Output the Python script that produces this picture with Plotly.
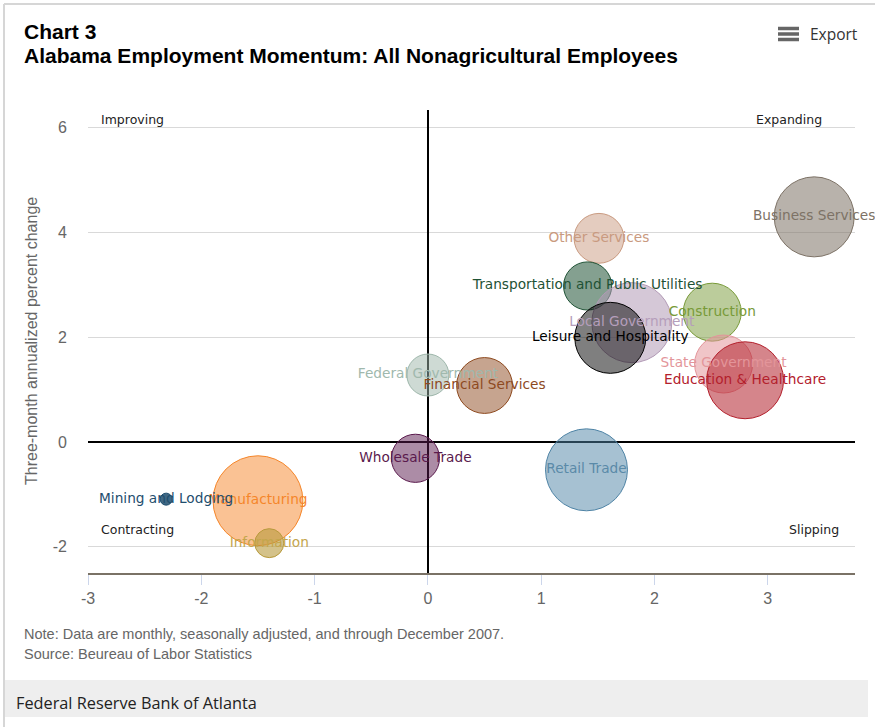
import plotly.graph_objects as go

# ---- data ----
sectors = ["Business Services", "Other Services", "Transportation and Public Utilities",
           "Local Government", "Leisure and Hospitality", "Construction", "State Government",
           "Education & Healthcare", "Federal Government", "Financial Services",
           "Wholesale Trade", "Retail Trade", "Manufacturing", "Information",
           "Mining and Lodging"]
x_vals = [3.41, 1.51, 1.41, 1.80, 1.61, 2.51, 2.61, 2.80, 0.00, 0.50, -0.11, 1.40, -1.50, -1.40, -2.31]
y_vals = [4.30, 3.89, 2.98, 2.28, 1.99, 2.48, 1.49, 1.18, 1.28, 1.08, -0.31, -0.53, -1.12, -1.93, -1.09]
z_vals = [80, 31, 29, 80, 63, 42, 42, 74, 22, 39, 29, 84, 101, 10.5, 1.8]
line_colors = ["#7d7266", "#c99a80", "#1f5235", "#b29ab6", "#000000", "#789a38", "#e3959a",
               "#b3202c", "#9db6aa", "#8e4a1f", "#5a1a4d", "#4e83a5", "#f5862a", "#b89a3c",
               "#1f4e6e"]
fill_colors = ["rgba(125,114,102,0.55)", "rgba(201,154,128,0.5)", "rgba(31,82,53,0.55)",
               "rgba(178,154,182,0.55)", "rgba(0,0,0,0.5)", "rgba(120,154,56,0.5)",
               "rgba(227,149,154,0.55)", "rgba(179,32,44,0.55)", "rgba(157,182,170,0.5)",
               "rgba(142,74,31,0.5)", "rgba(90,26,77,0.5)", "rgba(78,131,165,0.5)",
               "rgba(245,134,42,0.5)", "rgba(184,154,60,0.6)", "rgba(31,78,110,0.85)"]
label_colors = ["#7d7266", "#c99a80", "#1f5235", "#b59ebb", "#000000", "#789a38", "#e3959a",
                "#b3202c", "#a0b8ad", "#8e4a1f", "#5a1a4d", "#5a8aa8", "#f5862a", "#c4a64c",
                "#1f4e6e"]
x_ticks = [-3, -2, -1, 0, 1, 2, 3]
x_ticktext = ["-3", "-2", "-1", "0", "1", "2", "3"]
y_ticks = [-2, 0, 2, 4, 6]
y_ticktext = ["-2", "0", "2", "4", "6"]

W, H = 875, 727
L, R, T, B = 88, 855, 110, 573


def px_x(p):
    return (p - L) / (R - L)


def px_y(p):
    return (B - p) / (B - T)


fig = go.Figure()
fig.add_trace(go.Scatter(
    x=x_vals, y=y_vals, mode="markers",
    marker=dict(size=z_vals, sizemode="area", sizeref=0.025, sizemin=4, opacity=1,
                color=fill_colors, line=dict(color=line_colors, width=1)),
    hoverinfo="text", text=sectors, showlegend=False, cliponaxis=False))
fig.add_trace(go.Scatter(
    x=x_vals, y=y_vals, mode="text", text=sectors, textposition="middle center",
    textfont=dict(family="DejaVu Sans", size=13.7, color=label_colors),
    hoverinfo="skip", showlegend=False, cliponaxis=False))

ann = []
font_q = dict(family="DejaVu Sans", size=12.5, color="#222")
ann.append(dict(text="Improving", x=px_x(99), y=px_y(119), xanchor="left", yanchor="middle", font=font_q))
ann.append(dict(text="Expanding", x=px_x(824), y=px_y(119), xanchor="right", yanchor="middle", font=font_q))
ann.append(dict(text="Contracting", x=px_x(99), y=px_y(529), xanchor="left", yanchor="middle", font=font_q))
ann.append(dict(text="Slipping", x=px_x(841), y=px_y(529), xanchor="right", yanchor="middle", font=font_q))
title_font = dict(family="Liberation Sans", size=21, color="#000")
ann.append(dict(text="<b>Chart 3</b>", x=px_x(22), y=px_y(32), xanchor="left", yanchor="middle", font=title_font))
ann.append(dict(text="<b>Alabama Employment Momentum: All Nonagricultural Employees</b>",
                x=px_x(22), y=px_y(56), xanchor="left", yanchor="middle", font=title_font))
ann.append(dict(text="Export", x=px_x(808), y=px_y(34), xanchor="left", yanchor="middle",
                font=dict(family="Open Sans", size=15.5, color="#333")))
ann.append(dict(text="Three-month annualized percent change", textangle=-90, x=px_x(31), y=px_y(341),
                xanchor="center", yanchor="middle", font=dict(family="Liberation Sans", size=16, color="#666")))
note_font = dict(family="Liberation Sans", size=14.5, color="#666")
ann.append(dict(text="Note: Data are monthly, seasonally adjusted, and through December 2007.",
                x=px_x(22), y=px_y(634), xanchor="left", yanchor="middle", font=note_font))
ann.append(dict(text="Source: Beureau of Labor Statistics",
                x=px_x(22), y=px_y(654), xanchor="left", yanchor="middle", font=note_font))
ann.append(dict(text="Federal Reserve Bank of Atlanta", x=px_x(14), y=px_y(703), xanchor="left",
                yanchor="middle", font=dict(family="Open Sans", size=16.3, color="#222")))
for a in ann:
    a.update(xref="paper", yref="paper", showarrow=False)

shapes = []
# outer border
shapes.append(dict(type="line", x0=px_x(4), x1=px_x(875), y0=px_y(4), y1=px_y(4),
                   line=dict(color="#d6d6d6", width=2)))
shapes.append(dict(type="line", x0=px_x(4), x1=px_x(4), y0=px_y(4), y1=px_y(727),
                   line=dict(color="#d6d6d6", width=2)))
# footer band
shapes.append(dict(type="rect", x0=px_x(5), x1=px_x(868), y0=px_y(680), y1=px_y(717),
                   fillcolor="#eeeeee", line=dict(width=0), layer="below"))
# hamburger icon
for yy in (28.5, 34, 39.5):
    shapes.append(dict(type="line", x0=px_x(778), x1=px_x(799), y0=px_y(yy), y1=px_y(yy),
                       line=dict(color="#666", width=3.5)))
for s in shapes:
    s.update(xref="paper", yref="paper")

fig.update_layout(
    width=W, height=H,
    margin=dict(l=L, r=W - R, t=T, b=H - B),
    paper_bgcolor="white", plot_bgcolor="white",
    annotations=ann, shapes=shapes,
    xaxis=dict(range=[-3, 3.77], tickvals=x_ticks, ticktext=x_ticktext, showgrid=False,
               zeroline=True, zerolinecolor="#000", zerolinewidth=2,
               showline=True, linecolor="#7a7266", linewidth=2,
               ticks="outside", ticklen=10, tickcolor="#ccd6eb",
               tickfont=dict(family="Liberation Sans", size=16, color="#666"),
               fixedrange=True),
    yaxis=dict(range=[-2.5, 6.34], tickvals=y_ticks, ticktext=y_ticktext, showgrid=True,
               gridcolor="#d9d9d9", gridwidth=1, zeroline=True, zerolinecolor="#000",
               zerolinewidth=2, showline=False, ticks="", ticklabelstandoff=20,
               tickfont=dict(family="Liberation Sans", size=16, color="#666"),
               fixedrange=True),
)

fig.write_html("out.html")
